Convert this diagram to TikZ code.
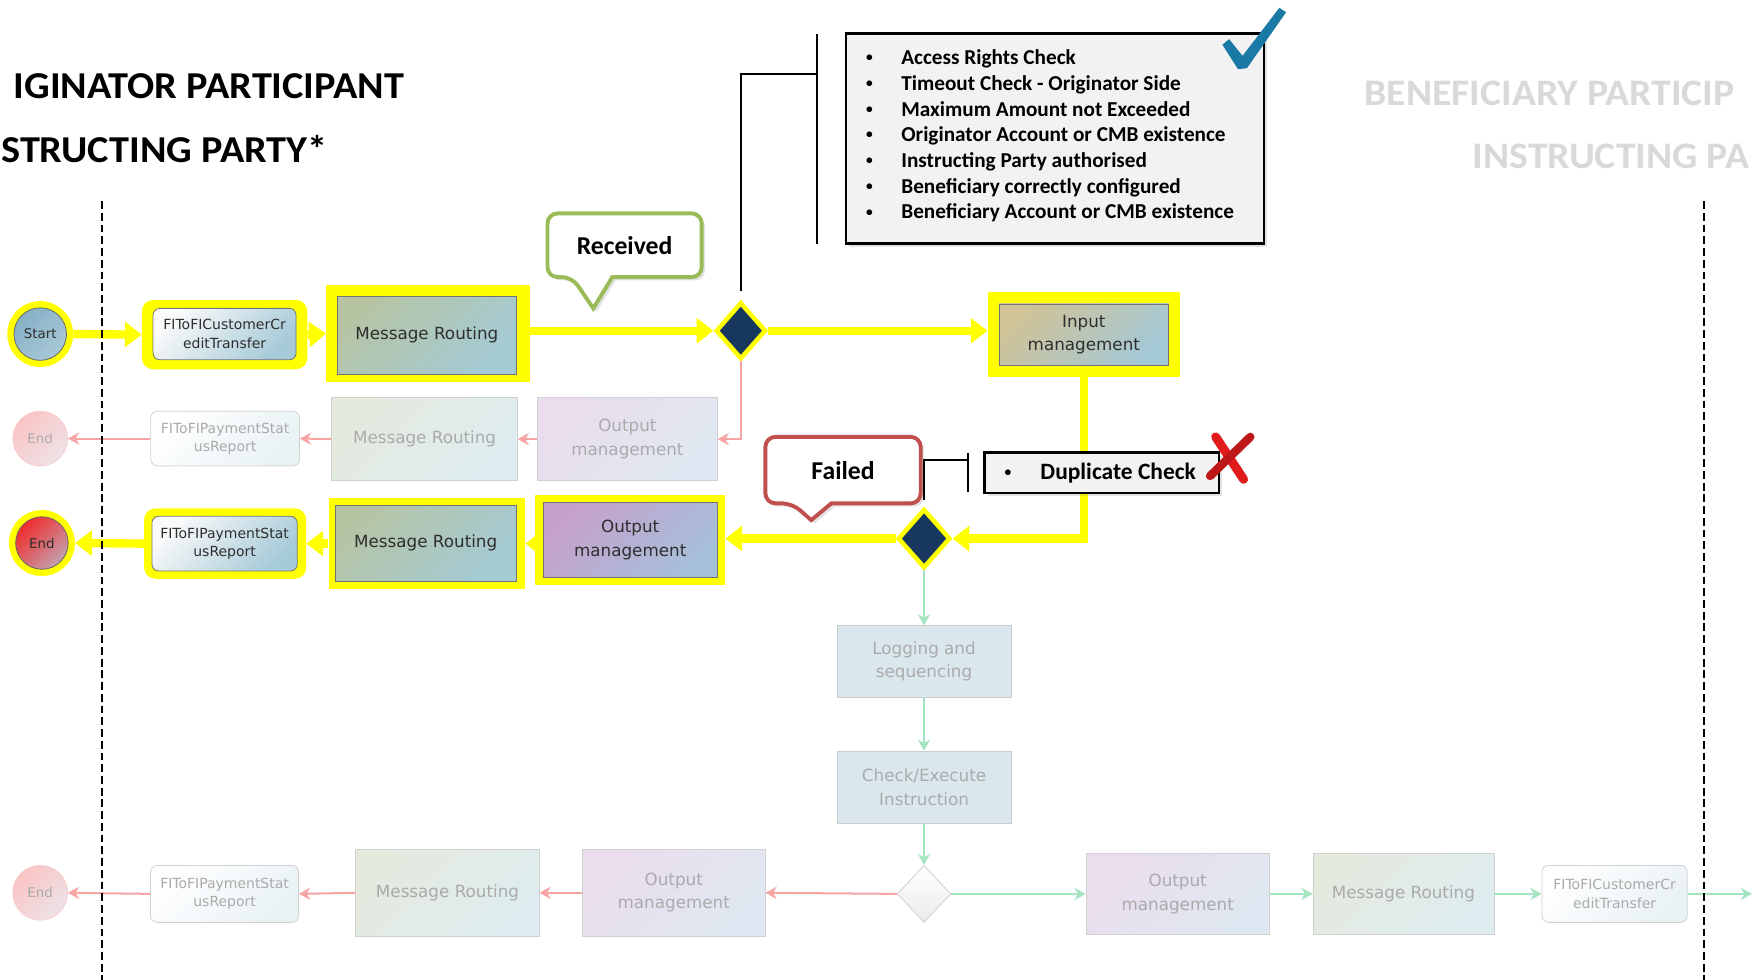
\documentclass[tikz,border=0pt]{standalone}
\usepackage{fontspec}
\setmainfont{Carlito}
\newfontfamily\boxfont{DejaVu Sans}
\newfontfamily\ttlfont[FakeStretch=1.06]{Carlito}
\usetikzlibrary{arrows.meta,shapes.geometric,shadows}
\definecolor{hl}{HTML}{FFFF00}
\definecolor{navy}{HTML}{17375E}
\definecolor{mrA}{HTML}{B6C4A4}
\definecolor{mrB}{HTML}{A4CAD4}
\definecolor{inA}{HTML}{CFC397}
\definecolor{inB}{HTML}{A4C8D6}
\definecolor{omA}{HTML}{C6A0CC}
\definecolor{omB}{HTML}{A6C0DA}
\definecolor{fiA}{HTML}{FAFAFA}
\definecolor{fiB}{HTML}{A6CAD8}
\definecolor{stA}{HTML}{86B0C6}
\definecolor{stB}{HTML}{A8C8D6}
\definecolor{enA}{HTML}{F02C2C}
\definecolor{enB}{HTML}{C4A0AE}
\definecolor{pinkln}{HTML}{F8A4A4}
\definecolor{greenln}{HTML}{A4E4C0}
\definecolor{fadetxt}{HTML}{AAAAAA}
\definecolor{ghost}{HTML}{D9D9D9}
\definecolor{recvG}{HTML}{9BBB59}
\definecolor{failR}{HTML}{C0504D}
\definecolor{tickc}{HTML}{1B79A6}
\definecolor{crossc}{HTML}{E01B1B}
\definecolor{logF}{HTML}{DAE8EE}
\definecolor{panel}{HTML}{F2F2F2}
\newcommand\smbullet{\raisebox{2.6pt}{\fontsize{12}{12}\selectfont\textbullet}}
\begin{document}
\begin{tikzpicture}[x=1pt,y=-1pt,
  hlbox/.style={fill=hl, draw=none, inner sep=0pt},
  boxtext/.style={inner sep=0pt, align=center, font=\boxfont\fontsize{15}{21}\selectfont, text=black!82},
  gbox/.style={boxtext, rectangle, draw=black!55, line width=0.7pt, top color=#1A, bottom color=#1B, shading angle=45},
  fbox/.style={boxtext, rectangle, draw=black!18, line width=0.7pt, top color=#1A!36!white, bottom color=#1B!36!white, shading angle=45, text=fadetxt},
  fibox/.style={boxtext, rectangle, rounded corners=6pt, draw=black!55, line width=0.7pt, top color=fiA, bottom color=fiB, shading angle=45, font=\boxfont\fontsize{12.5}{16.5}\selectfont},
  fibxF/.style={boxtext, rectangle, rounded corners=6pt, draw=black!18, line width=0.7pt, top color=white, bottom color=fiB!25!white, shading angle=45, font=\boxfont\fontsize{12.5}{16.5}\selectfont, text=fadetxt},
  lbox/.style={boxtext, rectangle, draw=black!20, line width=0.7pt, fill=logF, text=fadetxt, minimum width=156, minimum height=64},
  stcirc/.style={boxtext, circle, draw=black!60, line width=0.7pt, top color=stA, bottom color=stB, shading angle=45, minimum size=47, font=\boxfont\fontsize{12}{14}\selectfont},
  encirc/.style={boxtext, circle, draw=black!60, line width=0.7pt, top color=enA, bottom color=enB, shading angle=45, minimum size=47, font=\boxfont\fontsize{12}{14}\selectfont},
  endF/.style={boxtext, circle, draw=enA!25!white, line width=0.7pt, top color=enA!28!white, bottom color=enB!30!white, shading angle=45, minimum size=49, font=\boxfont\fontsize{12}{14}\selectfont, text=fadetxt},
  dmd/.style={diamond, fill=navy, draw=hl, line width=4pt, minimum width=45, minimum height=51, inner sep=0pt},
  dmdF/.style={diamond, top color=white, bottom color=black!8, draw=black!18, line width=0.8pt, minimum width=48, minimum height=51, inner sep=0pt},
  yl/.style={draw=hl, line width=7.5pt, -{Triangle[length=15pt,width=22pt]}},
  pl/.style={draw=pinkln, line width=1.8pt, -{Stealth[length=10pt,width=11pt]}},
  gl/.style={draw=greenln, line width=1.8pt, -{Stealth[length=10pt,width=11pt]}},
  brk/.style={draw=black, line width=1.6pt},
  lane/.style={draw=black, line width=1.5pt, dash pattern=on 7pt off 3.5pt},
  ttl/.style={inner sep=0pt, font=\ttlfont\fontsize{34}{40}\selectfont\bfseries},
  gttl/.style={inner sep=0pt, text=ghost, font=\ttlfont\fontsize{33.5}{40}\selectfont\bfseries},
  calltxt/.style={inner sep=0pt, font=\fontsize{23}{27}\selectfont\bfseries},
  chkline/.style={inner sep=0pt, anchor=base west, font=\fontsize{19}{23}\selectfont\bfseries},
  shd/.style={drop shadow={opacity=0.22, shadow xshift=3pt, shadow yshift=-3pt}}
]
\useasboundingbox (0,0) rectangle (1568,877);
\clip (0,0) rectangle (1568,877);
\fill[white] (0,0) rectangle (1568,877);

% titles
\node[ttl, anchor=base east] (t1) at (362,88) {IGINATOR PARTICIPANT};
\node[ttl, anchor=base west] (t2) at (1,145) {STRUCTING PARTY*};
\node[gttl, anchor=base west] (t3) at (1221,94) {BENEFICIARY PARTICIP};
\node[gttl, anchor=base west] (t4) at (1318,151) {INSTRUCTING PA};

% checklist panel
\node[rectangle, draw=black, line width=2pt, fill=panel, shd, minimum width=374, minimum height=188, inner sep=0pt] (checks) at (944,124) {};
\foreach \t [count=\i] in {Access Rights Check, Timeout Check - Originator Side, Maximum Amount not Exceeded, Originator Account or CMB existence, Instructing Party authorised, Beneficiary correctly configured, Beneficiary Account or CMB existence}
  \node[chkline] (cl\i) at (775,{58+23*(\i-1)}) {\makebox[31.5pt][l]{\smbullet}\t};
\fill[tickc] (1094,40) -- (1100,35) -- (1112,50) -- (1145,7) -- (1151,11) -- (1116,61) -- (1108,62) -- cycle;

% bracket 1
\coordinate (bar1t) at (731,30);
\coordinate (bar1b) at (731,218);
\coordinate (brk1) at (731,66);
\draw[brk] (bar1t) -- (bar1b);

% Received callout
\draw[line width=3.5pt, draw=recvG, fill=white, shd, rounded corners=9pt] (548,248) -- (628,248) -- (628,191) -- (490,191) -- (490,248) -- (512,248) [sharp corners] -- (531,276) -- cycle;
\node[calltxt] (recvT) at (559,219.5) {Received};

% row 1
\node[hlbox, circle, minimum size=59] (startHL) at (36,299) {};
\node[stcirc] (start) at (36,299) {Start};
\node[hlbox, rounded corners=10pt, minimum width=148, minimum height=62] (fitoAHL) at (201,299.5) {};
\node[fibox, minimum width=128, minimum height=46] (fitoA) at (201,299) {FIToFICustomerCr\\editTransfer};
\node[hlbox, minimum width=182, minimum height=86] (mr1HL) at (383,298.5) {};
\node[gbox=mr, minimum width=160, minimum height=70] (mr1) at (382,300) {Message Routing};
\node[dmd] (dia1) at (663,296) {};
\node[hlbox, minimum width=172, minimum height=76] (inpHL) at (970,299) {};
\node[gbox=in, minimum width=152, minimum height=55] (inp) at (970,299.5) {Input\\management};

\draw[brk, shorten <=8pt] (dia1.north) -- (dia1.north |- brk1) -- (brk1);

% row 2 (faded)
\node[endF] (end2) at (36,392.5) {End};
\node[fibxF, minimum width=133, minimum height=49] (fito2) at (201.5,392.5) {FIToFIPaymentStat\\usReport};
\node[fbox=mr, minimum width=166, minimum height=74] (mr2) at (380,393) {Message Routing};
\node[fbox=om, minimum width=161, minimum height=74] (om2) at (561.5,393) {Output\\management};
\draw[pl] (dia1.south) -- (dia1.south |- om2.east) -- (om2.east);
\draw[pl] (om2.west) -- (mr2.east);
\draw[pl] (mr2.west) -- (fito2.east);
\draw[pl] (fito2.west) -- (end2.east);

% row 3
\node[hlbox, circle, minimum size=59] (end3HL) at (37.5,486) {};
\node[encirc] (end3) at (37.5,486) {End};
\node[hlbox, rounded corners=10pt, minimum width=145, minimum height=63] (fito3HL) at (201.5,486.5) {};
\node[fibox, minimum width=130, minimum height=49] (fito3) at (201,486.5) {FIToFIPaymentStat\\usReport};
\node[hlbox, minimum width=176, minimum height=81] (mr3HL) at (382,486.5) {};
\node[gbox=mr, minimum width=162, minimum height=68] (mr3) at (381,486) {Message Routing};
\node[hlbox, minimum width=170, minimum height=81] (om3HL) at (564,483.5) {};
\node[gbox=om, minimum width=156, minimum height=67] (om3) at (564,483.5) {Output\\management};
\node[dmd, minimum width=47, minimum height=53] (dia2) at (827,482) {};

% Failed callout
\draw[line width=3.5pt, draw=failR, fill=white, shd, rounded corners=9pt] (744,450.5) -- (824,450.5) -- (824,391) -- (685,391) -- (685,450.5) -- (709,450.5) [sharp corners] -- (726,465.5) -- cycle;
\node[calltxt] (failT) at (754.5,421) {Failed};

% bracket 2 and duplicate check
\coordinate (bar2t) at (866,405.5);
\coordinate (bar2b) at (866,440);
\coordinate (brk2) at (866,411.5);
\draw[brk] (bar2t) -- (bar2b);
\draw[brk, shorten <=6pt] (dia2.north) -- (dia2.north |- brk2) -- (brk2);

% yellow path
\draw[yl] (startHL.east) -- (fitoAHL.west);
\draw[yl] (fitoAHL.east) -- (mr1HL.west);
\draw[yl] (mr1HL.east |- dia1.west) -- (dia1.west);
\draw[yl] (dia1.east) -- (dia1.east -| inpHL.west);
\draw[yl] (inpHL.south) -- (inpHL.south |- dia2.east) -- (dia2.east);
\draw[yl] (dia2.west) -- (dia2.west -| om3HL.east);
\draw[yl] (om3HL.west |- mr3HL.east) -- (mr3HL.east);
\draw[yl] (mr3HL.west) -- (fito3HL.east);
\draw[yl] (fito3HL.west) -- (end3HL.east);

\node[rectangle, draw=black, line width=2pt, fill=panel, shd, minimum width=210, minimum height=36, inner sep=0pt] (dup) at (986,423) {};
\node[inner sep=0pt, anchor=base west, font=\fontsize{21}{25}\selectfont\bfseries] (dupT) at (899,429) {\makebox[32pt][l]{\smbullet}Duplicate Check};
\draw[crossc, line width=8pt, line cap=round] (1088,391) -- (1113,429);
\draw[crossc!85!black, line width=7.5pt, line cap=round] (1083,426) -- (1119,391);

% lower flow
\node[lbox] (log) at (827,592) {Logging and\\sequencing};
\node[lbox, minimum height=64.5] (chk) at (827,704.5) {Check/Execute\\Instruction};
\node[dmdF] (dia3) at (827,800) {};
\node[fbox=om, minimum width=163.5, minimum height=77.5] (om4) at (603,799) {Output\\management};
\node[fbox=mr, minimum width=164, minimum height=77.5] (mr4) at (400.5,799) {Message Routing};
\node[fibxF, minimum width=132.5, minimum height=51] (fito4) at (201,800) {FIToFIPaymentStat\\usReport};
\node[endF] (end4) at (36,799) {End};
\node[fbox=om, minimum width=164, minimum height=72] (om5) at (1054,800) {Output\\management};
\node[fbox=mr, minimum width=162, minimum height=72] (mr5) at (1256,800) {Message Routing};
\node[fibxF, minimum width=130, minimum height=51] (fito5) at (1445,800) {FIToFICustomerCr\\editTransfer};
\coordinate (exitR) at (1568,800);

\draw[gl] (dia2.south) -- (log.north);
\draw[gl] (log.south) -- (chk.north);
\draw[gl] (chk.south) -- (dia3.north);
\draw[gl] (dia3.east) -- (om5.west);
\draw[gl] (om5.east) -- (mr5.west);
\draw[gl] (mr5.east) -- (fito5.west);
\draw[gl] (fito5.east) -- (exitR);
\draw[pl] (dia3.west) -- (om4.east);
\draw[pl] (om4.west) -- (mr4.east);
\draw[pl] (mr4.west) -- (fito4.east);
\draw[pl] (fito4.west) -- (end4.east);

% lanes
\coordinate (dl1) at (91,180); \coordinate (dl2) at (91,877);
\coordinate (dr1) at (1525,180); \coordinate (dr2) at (1525,877);
\draw[lane] (dl1) -- (dl2);
\draw[lane] (dr1) -- (dr2);
\end{tikzpicture}
\end{document}
